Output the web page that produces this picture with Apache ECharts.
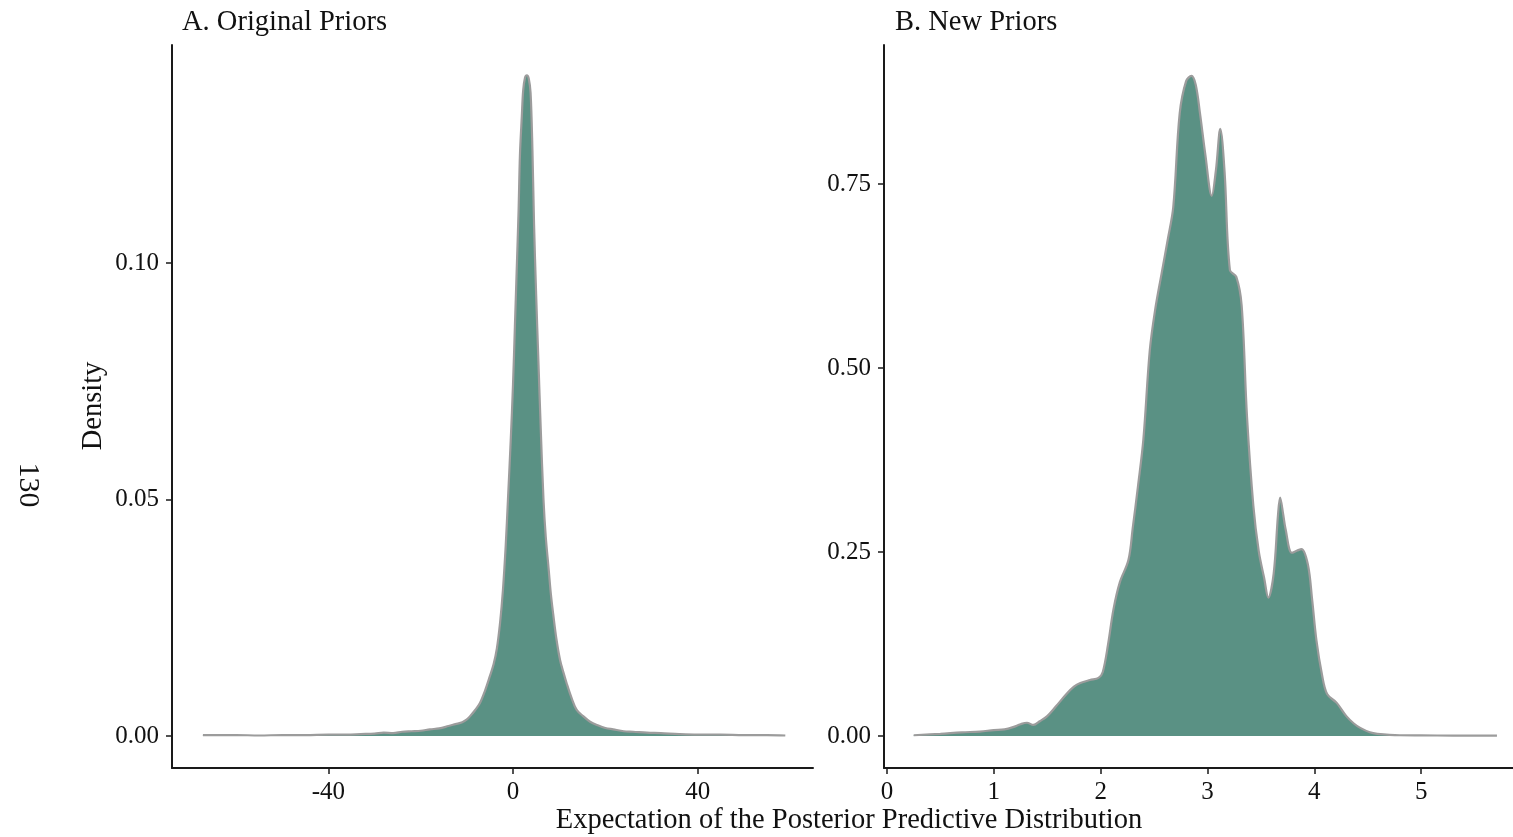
<!DOCTYPE html>
<html>
<head>
<meta charset="utf-8">
<title>Posterior predictive expectation densities</title>
<script src="https://cdn.jsdelivr.net/npm/echarts@6/dist/echarts.min.js"></script>
<style>
  html, body { margin: 0; padding: 0; background: #ffffff; }
  #chart { width: 1513px; height: 837px; }
</style>
</head>
<body>
<div id="chart"></div>
<script>
// Panel A: density of the posterior predictive expectation, original priors
const origX = [-67.2, -60, -55, -50, -45, -40, -36, -33, -30, -28, -26, -24, -22, -20, -18, -16, -14, -12.5, -11, -10, -9.3, -8.2, -7.2, -6.1, -5.0, -4.2, -3.5, -2.8, -2.2, -1.6, -1.1, -0.5, 0, 0.4, 0.8, 1.2, 1.5, 1.9, 2.2, 2.6, 3.0, 3.4, 3.8, 4.2, 4.55, 5.0, 5.5, 6.0, 6.6, 7.1, 7.7, 8.2, 8.7, 9.4, 10.2, 10.9, 11.6, 12.7, 13.8, 15.2, 16.7, 18.5, 20, 21.7, 24, 26, 29, 32, 36, 40, 45, 50, 55, 59];
const origY = [0.0002, 0.0002, 0.0001, 0.0002, 0.0002, 0.0003, 0.0003, 0.0004, 0.0005, 0.0007, 0.0006, 0.0009, 0.0010, 0.0011, 0.0014, 0.0016, 0.0021, 0.0025, 0.0029, 0.0035, 0.0042, 0.0055, 0.0069, 0.0095, 0.0127, 0.0152, 0.0185, 0.0240, 0.0307, 0.0400, 0.0500, 0.0625, 0.0744, 0.0865, 0.0986, 0.1110, 0.1229, 0.1310, 0.1365, 0.1392, 0.1397, 0.1390, 0.1360, 0.1240, 0.1083, 0.0935, 0.0792, 0.0650, 0.0500, 0.0420, 0.0355, 0.0300, 0.0258, 0.0205, 0.0160, 0.0135, 0.0112, 0.0080, 0.0055, 0.0042, 0.0030, 0.0022, 0.0017, 0.0014, 0.0010, 0.0009, 0.0007, 0.0006, 0.0004, 0.0003, 0.0003, 0.0002, 0.0002, 0.0001];

// Panel B: density of the posterior predictive expectation, new priors
const newX = [0.25, 0.5, 0.7, 0.87, 1.0, 1.1, 1.18, 1.25, 1.31, 1.37, 1.43, 1.50, 1.58, 1.68, 1.75, 1.81, 1.90, 1.98, 2.02, 2.07, 2.12, 2.18, 2.26, 2.30, 2.35, 2.40, 2.46, 2.51, 2.57, 2.63, 2.68, 2.74, 2.80, 2.85, 2.89, 2.93, 2.98, 3.04, 3.08, 3.12, 3.16, 3.21, 3.27, 3.32, 3.37, 3.43, 3.48, 3.53, 3.57, 3.62, 3.66, 3.68, 3.71, 3.73, 3.79, 3.84, 3.88, 3.94, 3.98, 4.02, 4.07, 4.12, 4.21, 4.30, 4.37, 4.43, 4.52, 4.59, 4.8, 5.0, 5.3, 5.71];
const newY = [0.001, 0.003, 0.005, 0.006, 0.008, 0.009, 0.012, 0.016, 0.018, 0.015, 0.020, 0.027, 0.040, 0.057, 0.067, 0.072, 0.076, 0.079, 0.087, 0.125, 0.172, 0.209, 0.239, 0.282, 0.340, 0.403, 0.524, 0.579, 0.628, 0.676, 0.719, 0.846, 0.890, 0.897, 0.885, 0.846, 0.790, 0.734, 0.770, 0.825, 0.767, 0.633, 0.624, 0.585, 0.434, 0.312, 0.251, 0.215, 0.188, 0.221, 0.300, 0.324, 0.300, 0.282, 0.249, 0.252, 0.254, 0.233, 0.185, 0.130, 0.085, 0.057, 0.045, 0.027, 0.017, 0.011, 0.005, 0.003, 0.001, 0.0008, 0.0006, 0.0005];

// Axis ticks and panel labels
const origXTicks = [-40, 0, 40];
const origYTicks = [0.00, 0.05, 0.10];
const newXTicks = [0, 1, 2, 3, 4, 5];
const newYTicks = [0.00, 0.25, 0.50, 0.75];
const panelTitles = ['A. Original Priors', 'B. New Priors'];
const xTitle = 'Expectation of the Posterior Predictive Distribution';
const yTitle = 'Density';
const pageNumber = '130';

const FONT = '"Liberation Serif", "DejaVu Serif", serif';
const FILL = '#5a9184';
const EDGE = '#9c9c9c';
const INK = '#1a1a1a';

function zip(xs, ys) { return xs.map((x, i) => [x, ys[i]]); }

function xAxisCfg(grid, min, max, ticks) {
  return {
    type: 'value', gridIndex: grid, min: min, max: max,
    splitLine: { show: false },
    axisLine: { show: true, onZero: false, lineStyle: { color: INK, width: 2 } },
    axisTick: { show: true, length: 6, lineStyle: { color: INK, width: 1.5 }, customValues: ticks },
    axisLabel: { show: true, customValues: ticks, margin: 12, color: '#111', fontFamily: FONT, fontSize: 25,
      formatter: v => String(v) }
  };
}
function yAxisCfg(grid, min, max, ticks) {
  return {
    type: 'value', gridIndex: grid, min: min, max: max,
    splitLine: { show: false },
    axisLine: { show: true, onZero: false, lineStyle: { color: INK, width: 2 } },
    axisTick: { show: true, length: 6, lineStyle: { color: INK, width: 1.5 }, customValues: ticks },
    axisLabel: { show: true, customValues: ticks, margin: 13, color: '#111', fontFamily: FONT, fontSize: 25,
      formatter: v => v.toFixed(2) }
  };
}
function densitySeries(idx, data) {
  return {
    type: 'line', xAxisIndex: idx, yAxisIndex: idx, data: data,
    smooth: 0.35, showSymbol: false, symbol: 'none',
    lineStyle: { color: EDGE, width: 2.2 },
    areaStyle: { color: FILL, opacity: 1, origin: 0 },
    z: 3
  };
}

const chart = echarts.init(document.getElementById('chart'), null, { renderer: 'canvas' });
chart.setOption({
  animation: false,
  backgroundColor: '#ffffff',
  grid: [
    { left: 172, top: 45, width: 641, height: 723 },
    { left: 884, top: 45, width: 629, height: 723 }
  ],
  xAxis: [
    xAxisCfg(0, -73.9, 65.0, origXTicks),
    xAxisCfg(1, -0.028, 5.86, newXTicks)
  ],
  yAxis: [
    yAxisCfg(0, -0.00677, 0.1461, origYTicks),
    yAxisCfg(1, -0.0435, 0.939, newYTicks)
  ],
  series: [
    densitySeries(0, zip(origX, origY)),
    densitySeries(1, zip(newX, newY))
  ],
  graphic: [
    { type: 'text', left: 182, top: 8, style: { text: panelTitles[0], font: '28.5px ' + FONT, fill: '#111' } },
    { type: 'text', left: 895, top: 8, style: { text: panelTitles[1], font: '28.5px ' + FONT, fill: '#111' } },
    { type: 'text', x: 849, y: 821, style: { text: xTitle, font: '28.5px ' + FONT, fill: '#111', align: 'center', verticalAlign: 'middle' } },
    { type: 'text', x: 94, y: 406, rotation: Math.PI / 2, style: { text: yTitle, font: '28.5px ' + FONT, fill: '#111', align: 'center', verticalAlign: 'middle' } },
    { type: 'text', x: 28, y: 485, rotation: -Math.PI / 2, style: { text: pageNumber, font: '30px ' + FONT, fill: '#111', align: 'center', verticalAlign: 'middle' } }
  ]
});
</script>
</body>
</html>
